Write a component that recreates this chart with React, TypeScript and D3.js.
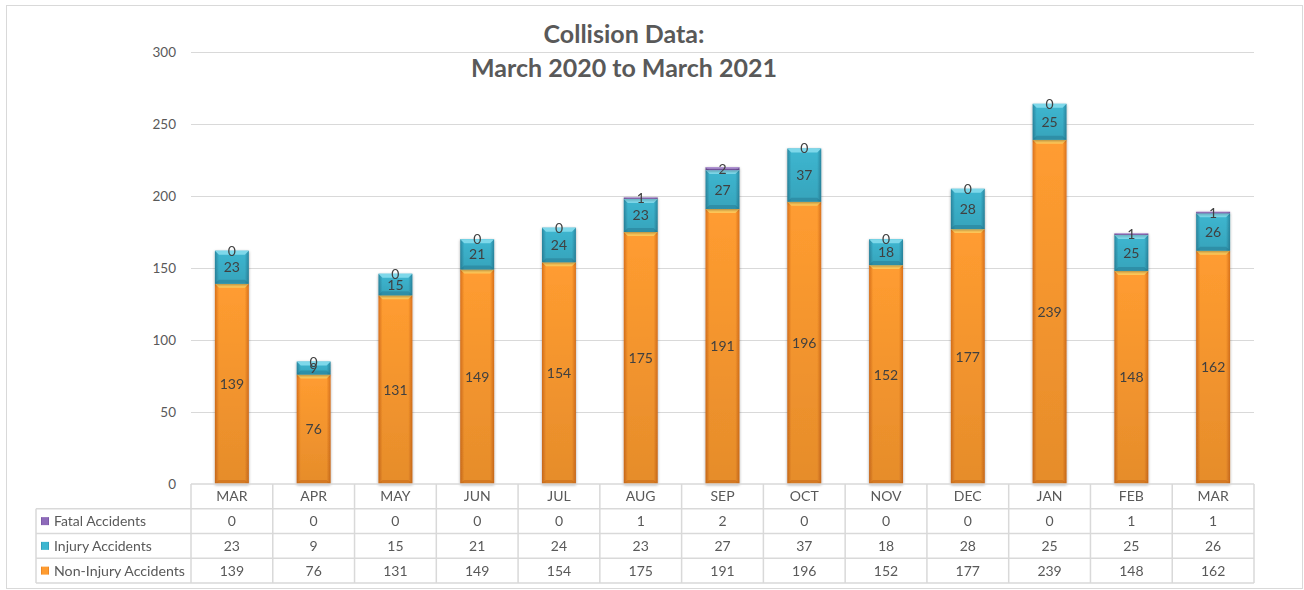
import { useMemo } from "react";
import * as d3 from "d3";

const WIDTH = 1304;
const HEIGHT = 590;
const PLOT = { left: 191, right: 1254, top: 52, bottom: 484 };
const ROW_H = 24.75;
const LEGEND_LEFT = 36;
const FONT = "Lato, 'Open Sans', sans-serif";
const TEXT = "#595959";
const LABEL = "#404040";
const GRID = "#D9D9D9";

const MONTHS = ["MAR", "APR", "MAY", "JUN", "JUL", "AUG", "SEP", "OCT", "NOV", "DEC", "JAN", "FEB", "MAR"];
const NON_INJURY = [139, 76, 131, 149, 154, 175, 191, 196, 152, 177, 239, 148, 162];
const INJURY = [23, 9, 15, 21, 24, 23, 27, 37, 18, 28, 25, 25, 26];
const FATAL = [0, 0, 0, 0, 0, 1, 2, 0, 0, 0, 0, 1, 1];
const Y_TICKS = [0, 50, 100, 150, 200, 250, 300];

// stack order bottom -> top
const SERIES = [
  { key: "nonInjury", label: "Non-Injury Accidents", values: NON_INJURY, mid: "#FF9C30", edge: "#D9711C", top: "#FFC95A", bottom: "#B85C12" },
  { key: "injury", label: "Injury Accidents", values: INJURY, mid: "#3DB6D0", edge: "#2A88A2", top: "#7ED8EA", bottom: "#1F6F86" },
  { key: "fatal", label: "Fatal Accidents", values: FATAL, mid: "#8E6BBA", edge: "#6A4A94", top: "#B59AD6", bottom: "#553A7A" },
];

// table order top -> bottom
const TABLE_ORDER = ["fatal", "injury", "nonInjury"];

export default function App() {
  const x = useMemo(
    () =>
      d3
        .scaleBand<number>()
        .domain(MONTHS.map((_, i) => i))
        .range([PLOT.left, PLOT.right])
        .paddingInner(0.585)
        .paddingOuter(0.2925),
    [],
  );
  const y = useMemo(() => d3.scaleLinear().domain([0, 300]).range([PLOT.bottom, PLOT.top]), []);
  const col = useMemo(
    () => d3.scaleBand<number>().domain(MONTHS.map((_, i) => i)).range([PLOT.left, PLOT.right]),
    [],
  );

  const rows = useMemo(
    () =>
      MONTHS.map((m, i) => {
        const row: Record<string, number> = { index: i };
        SERIES.forEach((s) => (row[s.key] = s.values[i]));
        return row;
      }),
    [],
  );
  const stacked = useMemo(() => d3.stack<Record<string, number>>().keys(SERIES.map((s) => s.key))(rows), [rows]);

  const bw = x.bandwidth();
  const bev = 4;

  return (
    <svg
      width={WIDTH}
      height={HEIGHT}
      style={{ position: "absolute", left: 0, top: 0, display: "block", background: "#fff" }}
      fontFamily={FONT}
    >
      <defs>
        {SERIES.map((s) => (
          <linearGradient key={s.key} id={`g-${s.key}`} x1="0" x2="1" y1="0" y2="0">
            <stop offset="0" stopColor={s.edge} />
            <stop offset="0.12" stopColor={s.mid} />
            <stop offset="0.88" stopColor={s.mid} />
            <stop offset="1" stopColor={s.edge} />
          </linearGradient>
        ))}
        <linearGradient id="shade" x1="0" x2="0" y1="0" y2="1">
          <stop offset="0" stopColor="#000" stopOpacity="0" />
          <stop offset="1" stopColor="#000" stopOpacity="0.1" />
        </linearGradient>
        <filter id="shadow" x="-20%" y="-5%" width="140%" height="110%">
          <feGaussianBlur in="SourceAlpha" stdDeviation="1.5" />
          <feOffset dx="0" dy="1" />
          <feComponentTransfer>
            <feFuncA type="linear" slope="0.35" />
          </feComponentTransfer>
          <feMerge>
            <feMergeNode />
            <feMergeNode in="SourceGraphic" />
          </feMerge>
        </filter>
      </defs>

      <rect x={6.5} y={5.5} width={1296} height={583} fill="#fff" stroke={GRID} />

      {/* title */}
      <text x={624} y={43} textAnchor="middle" fontSize={25} fontWeight="bold" fill={TEXT}>
        Collision Data:
      </text>
      <text x={624} y={77} textAnchor="middle" fontSize={25} fontWeight="bold" fill={TEXT}>
        March 2020 to March 2021
      </text>

      {/* gridlines + y ticks */}
      {Y_TICKS.map((t) => (
        <g key={t}>
          {t > 0 && <line x1={PLOT.left} x2={PLOT.right} y1={y(t) + 0.5} y2={y(t) + 0.5} stroke={GRID} />}
          <text x={176} y={y(t) + 4.5} textAnchor="end" fontSize={13.5} fill={TEXT}>
            {t}
          </text>
        </g>
      ))}

      {/* bars */}
      {stacked.map((layer, li) => {
        const s = SERIES[li];
        return (
          <g key={s.key} filter="url(#shadow)">
            {layer.map((d, i) => {
              const x0 = x(i) ?? 0;
              const y0 = y(d[1]);
              const h = y(d[0]) - y(d[1]);
              if (h <= 0) return null;
              const b = Math.min(bev, h / 2);
              return (
                <g key={i}>
                  <rect x={x0} y={y0} width={bw} height={h} fill={`url(#g-${s.key})`} />
                  <rect x={x0} y={y0} width={bw} height={h} fill="url(#shade)" />
                  <polygon
                    points={`${x0},${y0} ${x0 + bw},${y0} ${x0 + bw - b},${y0 + b} ${x0 + b},${y0 + b}`}
                    fill={s.top}
                  />
                  <polygon
                    points={`${x0},${y0 + h} ${x0 + bw},${y0 + h} ${x0 + bw - b},${y0 + h - b} ${x0 + b},${y0 + h - b}`}
                    fill={s.bottom}
                    opacity={0.4}
                  />
                </g>
              );
            })}
          </g>
        );
      })}

      {/* data labels */}
      {stacked.map((layer, li) => (
        <g key={`lbl-${li}`}>
          {layer.map((d, i) => {
            const cx = (x(i) ?? 0) + bw / 2;
            const cy = (y(d[0]) + y(d[1])) / 2;
            return (
              <text key={i} x={cx} y={cy + 5} textAnchor="middle" fontSize={14} fill={LABEL}>
                {SERIES[li].values[i]}
              </text>
            );
          })}
        </g>
      ))}

      {/* data table */}
      <g stroke={GRID} strokeWidth={1.5} fill="none">
        <line x1={PLOT.left} x2={PLOT.right} y1={PLOT.bottom} y2={PLOT.bottom} />
        {[1, 2, 3, 4].map((r) => (
          <line key={r} x1={LEGEND_LEFT} x2={PLOT.right} y1={PLOT.bottom + r * ROW_H} y2={PLOT.bottom + r * ROW_H} />
        ))}
        <line x1={LEGEND_LEFT} x2={LEGEND_LEFT} y1={PLOT.bottom + ROW_H} y2={PLOT.bottom + 4 * ROW_H} />
        {d3.range(MONTHS.length + 1).map((i) => {
          const xx = i < MONTHS.length ? col(i) ?? 0 : PLOT.right;
          return <line key={i} x1={xx} x2={xx} y1={PLOT.bottom} y2={PLOT.bottom + 4 * ROW_H} />;
        })}
      </g>

      {MONTHS.map((m, i) => (
        <text
          key={`m-${i}`}
          x={(col(i) ?? 0) + col.bandwidth() / 2}
          y={PLOT.bottom + ROW_H / 2 + 5}
          textAnchor="middle"
          fontSize={14}
          fill={TEXT}
        >
          {m}
        </text>
      ))}

      {TABLE_ORDER.map((key, r) => {
        const s = SERIES.find((d) => d.key === key)!;
        const cy = PLOT.bottom + (r + 1) * ROW_H + ROW_H / 2;
        return (
          <g key={key}>
            <rect x={41} y={cy - 4} width={8} height={8} fill={`url(#g-${s.key})`} />
            <rect x={43} y={cy - 2} width={4} height={4} fill={s.mid} />
            <text x={54} y={cy + 5} fontSize={14} textLength={131} lengthAdjust="spacingAndGlyphs" fill={TEXT}
              {...(key === "nonInjury" ? {} : { textLength: undefined })}>
              {s.label}
            </text>
            {s.values.map((v, i) => (
              <text
                key={i}
                x={(col(i) ?? 0) + col.bandwidth() / 2}
                y={cy + 5}
                textAnchor="middle"
                fontSize={14}
                fill={TEXT}
              >
                {v}
              </text>
            ))}
          </g>
        );
      })}
    </svg>
  );
}
